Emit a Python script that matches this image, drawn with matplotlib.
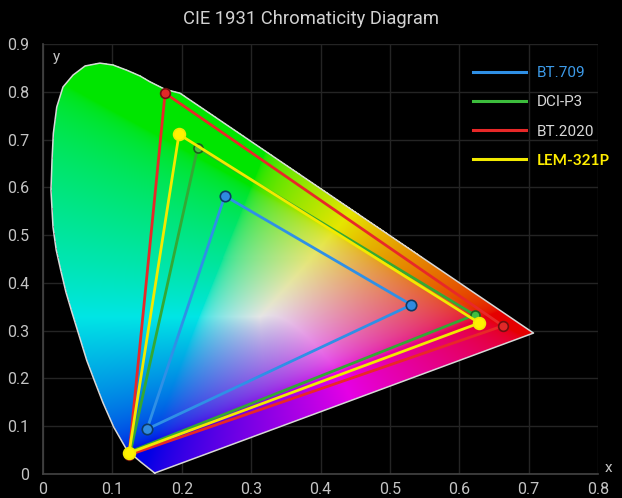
import numpy as np
import matplotlib
matplotlib.use("Agg")
import matplotlib.pyplot as plt
from matplotlib.path import Path
from matplotlib.lines import Line2D

# spectral locus (x, y), violet end first
locus_x = [0.161, 0.141, 0.121, 0.102, 0.0865, 0.075, 0.063, 0.042, 0.033, 0.0255,
           0.019, 0.0144, 0.0115, 0.013, 0.0149, 0.0198, 0.0288, 0.0433, 0.0606,
           0.082, 0.101, 0.121, 0.140, 0.154, 0.176, 0.1975, 0.438, 0.707]
locus_y = [0.002, 0.025, 0.050, 0.098, 0.149, 0.192, 0.238, 0.337, 0.381, 0.427,
           0.469, 0.517, 0.594, 0.657, 0.713, 0.768, 0.810, 0.835, 0.854,
           0.860, 0.856, 0.845, 0.833, 0.821, 0.805, 0.797, 0.560, 0.295]

# gamut triangles (red, green, blue vertices)
names = ["BT.709", "DCI-P3", "BT.2020", "LEM-321P"]
bt709_x = [0.531, 0.262, 0.150]
bt709_y = [0.354, 0.582, 0.094]
dcip3_x = [0.622, 0.223, 0.126]
dcip3_y = [0.333, 0.683, 0.047]
bt2020_x = [0.663, 0.176, 0.124]
bt2020_y = [0.310, 0.797, 0.040]
lem_x = [0.629, 0.196, 0.124]
lem_y = [0.316, 0.711, 0.044]

xticks = [0, 0.1, 0.2, 0.3, 0.4, 0.5, 0.6, 0.7, 0.8]
yticks = [0, 0.1, 0.2, 0.3, 0.4, 0.5, 0.6, 0.7, 0.8, 0.9]

plt.rcParams['font.family'] = ['Roboto', 'DejaVu Sans']

fig = plt.figure(figsize=(6.22, 4.98), dpi=100, facecolor='black')
ax = fig.add_axes([43/622, 1-474/498, 555/622, 430/498])
ax.set_facecolor('black')

# colour fill: xy -> XYZ (Y=1) -> linear sRGB, normalised by brightest channel
gx = np.linspace(0, 0.8, 555)
gy = np.linspace(0, 0.9, 430)
X, Y = np.meshgrid(gx, gy)
Ys = np.maximum(Y, 1e-4)
xyz = np.stack([X / Ys, np.ones_like(X), (1 - X - Y) / Ys], -1)
M = np.array([[3.2406, -1.5372, -0.4986],
              [-0.9689, 1.8758, 0.0415],
              [0.0557, -0.2040, 1.0570]])
lin = np.clip(xyz @ M.T, 0, None)
lin = lin / (lin.max(axis=-1, keepdims=True) + 1e-9)
# push the purple side toward violet, as in the reference
r, g, b = lin[..., 0], lin[..., 1], lin[..., 2]
s = r + b + 1e-9
t = (r / s) ** (1 + (1 - g))
lin = np.stack([s * t, g, s * (1 - t)], -1)
lin = lin / (lin.max(axis=-1, keepdims=True) + 1e-9)
rgb = np.where(lin <= 0.0031308, 12.92 * lin, 1.055 * lin ** (1 / 2.4) - 0.055)
rgb = np.clip(rgb * 0.9, 0, 1)

inside = Path(np.column_stack([locus_x, locus_y])).contains_points(
    np.column_stack([X.ravel(), Y.ravel()])).reshape(X.shape)
rgba = np.dstack([rgb, inside.astype(float)])
ax.imshow(rgba, origin='lower', extent=[0, 0.8, 0, 0.9], aspect='auto',
          interpolation='nearest', zorder=2)
ax.plot(locus_x + locus_x[:1], locus_y + locus_y[:1], color='#d8d8d8', lw=1.1,
        zorder=3, solid_joinstyle='round')
ax.set_xlim(0, 0.8)
ax.set_ylim(0, 0.9)

# grid and axes
ax.set_xticks(xticks)
ax.set_yticks(yticks)
ax.set_xticklabels([f"{v:g}" for v in xticks])
ax.set_yticklabels([f"{v:g}" for v in yticks])
ax.grid(True, color='#242424', lw=1, zorder=0)
ax.set_axisbelow(True)
ax.tick_params(length=0, labelcolor='#c4c4c4', labelsize=11.5)
ax.tick_params(axis='y', pad=10)
ax.tick_params(axis='x', pad=6)
for s_ in ['top', 'right']:
    ax.spines[s_].set_visible(False)
for s_ in ['left', 'bottom']:
    ax.spines[s_].set_color('#444444')
    ax.spines[s_].set_linewidth(1.2)
ax.text(0.014, 0.887, "y", color='#c4c4c4', fontsize=11, va='top', ha='left')
ax.text(1.012, 0.015, "x", color='#c4c4c4', fontsize=11, transform=ax.transAxes,
        va='center', ha='left', clip_on=False)

fig.text(0.5, 1 - 19/498, "CIE 1931 Chromaticity Diagram", color='#d2d2d2',
         fontsize=13.2, ha='center', va='center')

def tri(xs, ys, color, mfc, mec, ms, lw=2, z=4):
    ax.plot(xs + xs[:1], ys + ys[:1], color=color, lw=lw, zorder=z,
            solid_joinstyle='round')
    ax.plot(xs, ys, 'o', ms=ms, mfc=mfc, mec=mec, mew=1.2, zorder=z + 0.5)

tri(bt709_x, bt709_y, '#2f90e6', '#2f8ae0', '#0d3a66', 7.5, z=4)
tri(dcip3_x, dcip3_y, '#34a834', '#40c040', '#1d5e1d', 6.5, z=5)
tri(bt2020_x, bt2020_y, '#e82828', '#e02828', '#701010', 7, z=6)
tri(lem_x, lem_y, '#f2ea00', '#fff200', '#f2ea00', 8.5, z=7)

handles = [Line2D([], [], color=c, lw=2.2)
           for c in ['#2f90e6', '#3cbc3c', '#e82828', '#f2ea00']]
leg = fig.legend(handles, names, loc='upper left',
                 bbox_to_anchor=(473/622, 1 - 66/498), frameon=False,
                 fontsize=11, handlelength=3.5, handletextpad=0.7,
                 labelspacing=1.0, borderpad=0, borderaxespad=0)
txt_colors = ['#3d9be9', '#d8d8d8', '#d8d8d8', '#ffee00']
for t_, c in zip(leg.get_texts(), txt_colors):
    t_.set_color(c)
leg.get_texts()[3].set_fontweight('bold')
leg.get_texts()[3].set_family(['Lato', 'DejaVu Sans'])

fig.savefig('out.png', dpi=100, facecolor='black')
